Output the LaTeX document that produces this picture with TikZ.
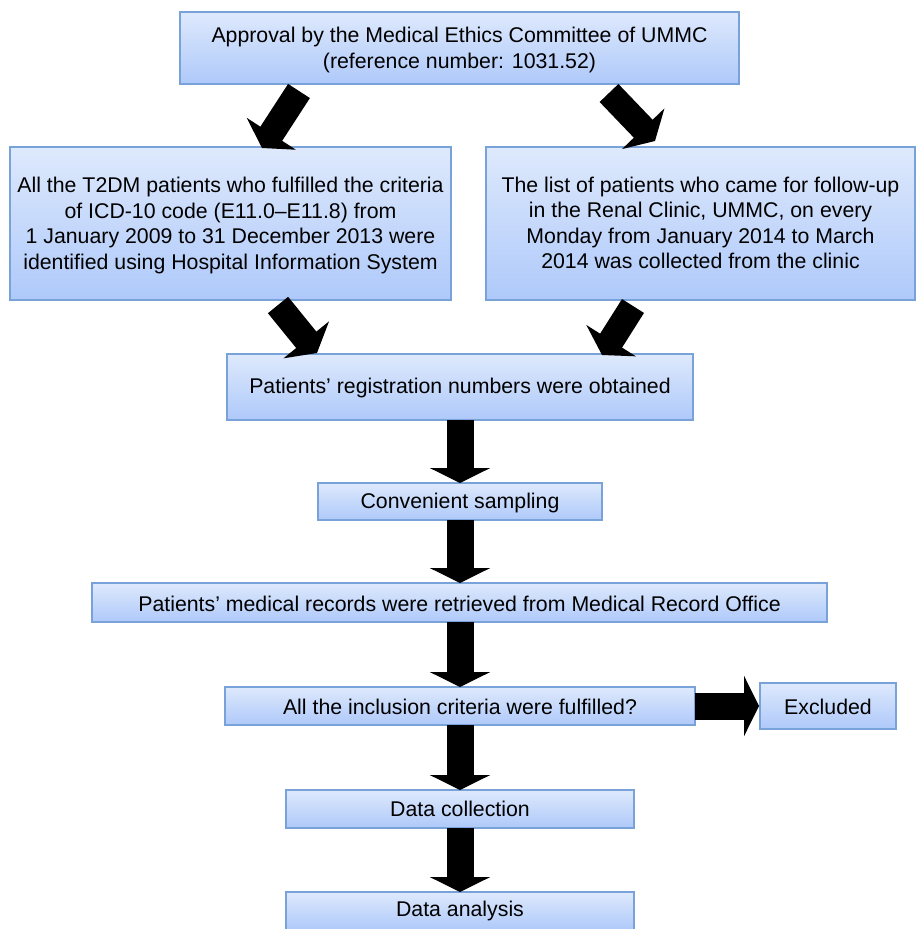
\documentclass[tikz,border=0pt]{standalone}
\usepackage{fontspec}
\setmainfont{Liberation Sans}
\usetikzlibrary{arrows.meta,calc}
\definecolor{boxtop}{RGB}{222,233,252}
\definecolor{boxbot}{RGB}{174,201,250}
\definecolor{boxline}{RGB}{120,162,216}
\tikzset{
  flowbox/.style={draw=boxline,line width=1.2pt,top color=boxtop,bottom color=boxbot,
    inner sep=0pt,outer sep=0pt},
  boxtext/.style={inner sep=0pt,align=center,font=\fontsize{21.3}{25.4}\selectfont},
  bigarrow/.style={line width=27pt,-{Triangle[width=60pt,length=15pt]}},
  diagarrow/.style={line width=26pt,-{Triangle[width=58pt,length=17pt]}},
}
\begin{document}
\begin{tikzpicture}[x=1pt,y=-1pt]
\useasboundingbox (0,0) rectangle (916,929);
% boxes
\node[flowbox,minimum width=559pt,minimum height=72pt] (top) at (459.5,48) {};
\node[flowbox,minimum width=441pt,minimum height=153pt] (left) at (230.5,223.5) {};
\node[flowbox,minimum width=429pt,minimum height=153pt] (right) at (700.5,223.5) {};
\node[flowbox,minimum width=466pt,minimum height=66pt] (reg) at (460,387) {};
\node[flowbox,minimum width=284pt,minimum height=37pt] (samp) at (460,501.5) {};
\node[flowbox,minimum width=735pt,minimum height=39pt] (rec) at (459.5,602.5) {};
\node[flowbox,minimum width=470pt,minimum height=38pt] (incl) at (460,706) {};
\node[flowbox,minimum width=136pt,minimum height=46pt] (excl) at (828,706) {};
\node[flowbox,minimum width=348pt,minimum height=38pt] (coll) at (460,809) {};
\node[flowbox,minimum width=348pt,minimum height=38pt] (anal) at (460,911) {};
% texts
\node[boxtext] (ttop) at ([yshift=-2pt]top.center) {Approval by the Medical Ethics Committee of UMMC\\(reference number: 1031.52)};
\node[boxtext] (tleft) at ([yshift=-2pt]left.center) {All the T2DM patients who fulfilled the criteria\\of ICD-10 code (E11.0–E11.8) from\\1 January 2009 to 31 December 2013 were\\identified using Hospital Information System};
\node[boxtext] (tright) at ([yshift=0.5pt]right.center) {The list of patients who came for follow-up\\in the Renal Clinic, UMMC, on every\\Monday from January 2014 to March\\2014 was collected from the clinic};
\node[boxtext] (treg) at ([yshift=-1pt]reg.center) {Patients’ registration numbers were obtained};
\node[boxtext] (tsamp) at ([yshift=-1pt]samp.center) {Convenient sampling};
\node[boxtext] (trec) at ([yshift=-1pt]rec.center) {Patients’ medical records were retrieved from Medical Record Office};
\node[boxtext] (tincl) at ([yshift=-1pt]incl.center) {All the inclusion criteria were fulfilled?};
\node[boxtext] (texcl) at ([yshift=-1pt]excl.center) {Excluded};
\node[boxtext] (tcoll) at ([yshift=0pt]coll.center) {Data collection};
\node[boxtext] (tanal) at ([yshift=0pt]anal.center) {Data analysis};
% named connector ends
\coordinate (a1s) at (299,91);
\coordinate (a1e) at (262,148);
\coordinate (a2s) at (609,93);
\coordinate (a2e) at (655,141);
\coordinate (a3s) at (278,305);
\coordinate (a3e) at (317,353);
\coordinate (a4s) at (633,306);
\coordinate (a4e) at (602,355);
\draw[diagarrow] (a1s) -- (a1e);
\draw[diagarrow] (a2s) -- (a2e);
\draw[diagarrow] (a3s) -- (a3e);
\draw[diagarrow] (a4s) -- (a4e);
% vertical arrows
\draw[bigarrow] (reg.south) -- (samp.north);
\draw[bigarrow] (samp.south) -- (samp.south |- rec.north);
\draw[bigarrow] (samp.south |- rec.south) -- (incl.north);
\draw[bigarrow] (incl.south) -- (coll.north);
\draw[bigarrow] (coll.south) -- (anal.north);
\draw[bigarrow] (incl.east) -- ([xshift=-1pt]excl.west);
\end{tikzpicture}
\end{document}
